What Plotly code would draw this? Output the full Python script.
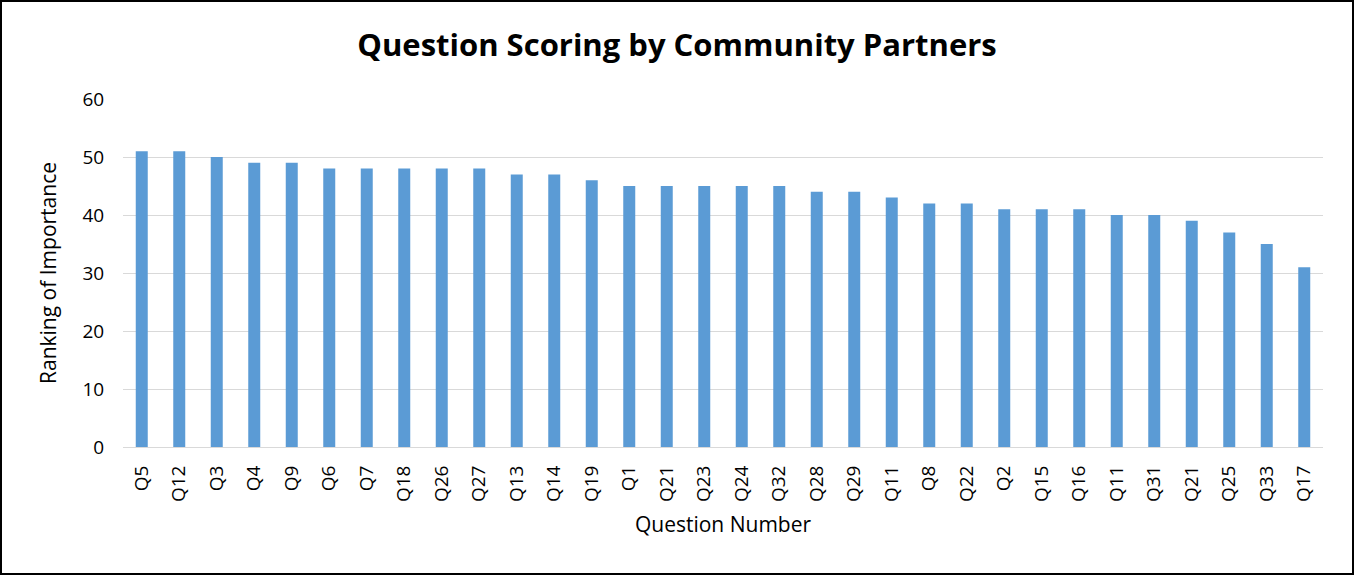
import plotly.graph_objects as go

questions = ["Q5", "Q12", "Q3", "Q4", "Q9", "Q6", "Q7", "Q18", "Q26", "Q27",
             "Q13", "Q14", "Q19", "Q1", "Q21", "Q23", "Q24", "Q32", "Q28", "Q29",
             "Q11", "Q8", "Q22", "Q2", "Q15", "Q16", "Q11", "Q31", "Q21", "Q25",
             "Q33", "Q17"]
scores = [51, 51, 50, 49, 49, 48, 48, 48, 48, 48,
          47, 47, 46, 45, 45, 45, 45, 45, 44, 44,
          43, 42, 42, 41, 41, 41, 40, 40, 39, 37,
          35, 31]

# labels repeat (Q11, Q21), so place bars by position and label them
pos = list(range(len(questions)))

fig = go.Figure(go.Bar(x=pos, y=scores, marker_color="#5B9BD5",
                       marker_line_width=0))

W, H = 1354, 575
ml, mr, mt, mb = 123, 31, 99, 128
pw, ph = W - ml - mr, H - mt - mb

fig.update_layout(
    width=W, height=H,
    margin=dict(l=ml, r=mr, t=mt, b=mb),
    plot_bgcolor="white", paper_bgcolor="white",
    font=dict(family="Open Sans, Calibri, sans-serif", size=19, color="#000"),
    bargap=0.68,
    showlegend=False,
    title=dict(text="<b>Question Scoring by Community Partners</b>",
               x=0.5, xanchor="center", y=1 - 45 / H, yanchor="middle",
               font=dict(size=31)),
    shapes=[dict(type="rect", xref="paper", yref="paper",
                 x0=-(ml - 1) / pw, x1=1 + (mr - 1) / pw,
                 y0=-(mb - 1) / ph, y1=1 + (mt - 1) / ph,
                 line=dict(color="#000", width=2))],
)
fig.update_xaxes(tickmode="array", tickvals=pos, ticktext=questions,
                 tickangle=-90, range=[-0.5, len(pos) - 0.5],
                 showline=True, linecolor="#d9d9d9", linewidth=1,
                 showgrid=False, ticks="outside", ticklen=10, tickcolor="rgba(0,0,0,0)",
                 automargin=False,
                 title=dict(text="Question Number", font=dict(size=21), standoff=16))
fig.update_yaxes(range=[0, 60], dtick=10, showgrid=True, gridcolor="#d9d9d9",
                 zeroline=False, ticks="outside", ticklen=14, tickcolor="rgba(0,0,0,0)",
                 automargin=False,
                 title=dict(text="Ranking of Importance", font=dict(size=21), standoff=20))

fig.write_html("out.html", config={"displayModeBar": False},
               post_script="document.body.style.margin='0';")
